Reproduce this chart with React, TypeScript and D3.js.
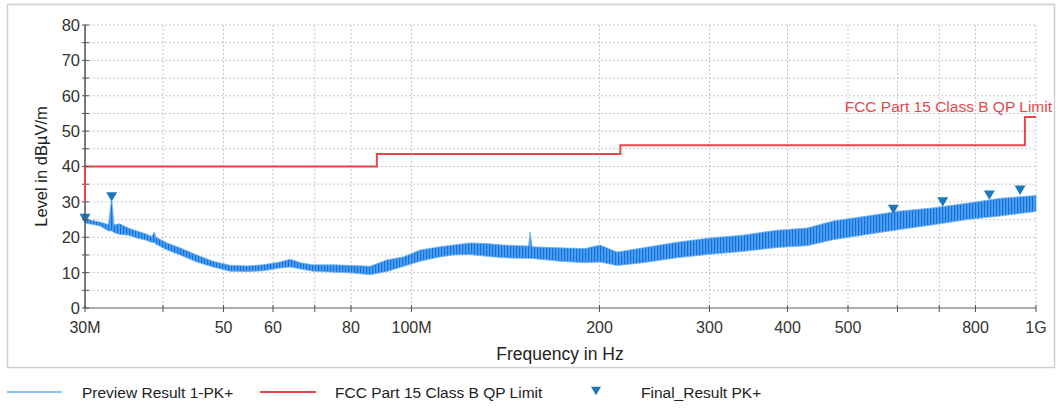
import React from "react";
import * as d3 from "d3";

// ---------- data ----------
const traceFreqMHz = [30, 31.7, 32.7, 33.1, 33.4, 34.1, 35.2, 36.3, 37.5, 38.4, 38.7, 39.0, 40.6, 42.6, 45.3, 48.1, 51.2, 54.5, 57.8, 61.6, 63.9, 66.5, 69.5, 75.4, 80.6, 85.8, 91.3, 96.9, 103.2, 109.9, 116.6, 124.1, 132.1, 140.1, 154, 154.8, 156, 172.9, 189.6, 200.4, 213.3, 234.7, 266.1, 300.6, 339.5, 384.9, 429.9, 473.1, 536.4, 605.7, 684, 775.6, 875.8, 1000];
const traceLow = [24.0, 23.2, 21.8, 21.8, 21.3, 20.8, 20.6, 19.8, 19.2, 18.5, 18.5, 18, 16.4, 15, 13, 11.6, 10.4, 10.3, 10.5, 11.3, 11.6, 11.0, 10.4, 10.1, 9.9, 9.4, 10.3, 11.7, 13.2, 14.3, 15, 15.1, 14.6, 14.2, 14, 14, 14, 13.2, 12.8, 13, 12.0, 12.8, 14.2, 15.2, 16.0, 17.1, 17.6, 19.3, 20.8, 22.2, 23.5, 25.0, 26.0, 27.3];
const traceHigh = [25.2, 24.3, 23.6, 31, 23.5, 23.8, 22.6, 21.8, 21.0, 20.2, 21.5, 20, 18.4, 17, 15, 13.2, 12.1, 11.9, 12.2, 13, 13.8, 12.8, 12.2, 12.2, 12, 11.8, 13.6, 14.4, 16.4, 17.2, 17.8, 18.4, 18.2, 17.8, 17.5, 21.5, 17.3, 17, 16.8, 17.8, 15.8, 17, 18.6, 19.8, 20.6, 22, 22.6, 24.6, 26.0, 27.4, 28.3, 29.6, 31.0, 31.8];

const limitFreqMHz = [30, 30, 88, 88, 216, 216, 960, 960, 1000];
const limitLevel = [30, 40, 40, 43.5, 43.5, 46, 46, 54, 54];

const markerFreqMHz = [30, 33.1, 591, 709, 842, 943];
const markerLevel = [25.3, 31.4, 27.9, 30.0, 31.9, 33.3];

const xTickValues = [40, 50, 60, 70, 80, 100, 200, 300, 400, 500, 600, 700, 800, 1000];
const xTickLabels: Record<number, string> = { 30: "30M", 50: "50", 60: "60", 80: "80", 100: "100M", 200: "200", 300: "300", 400: "400", 500: "500", 800: "800", 1000: "1G" };
const yMajorTicks = [0, 10, 20, 30, 40, 50, 60, 70, 80];
const yMinorTicks = [5, 15, 25, 35, 45, 55, 65, 75];

const legendItems = ["Preview Result 1-PK+", "FCC Part 15 Class B QP Limit", "Final_Result PK+"];
const limitLabel = "FCC Part 15 Class B QP Limit";

// ---------- layout ----------
const W = 1058;
const H = 408;
const left = 85;
const right = 1036;
const top = 25;
const bottom = 308;

const FONT = "'Liberation Sans', Arial, Helvetica, sans-serif";
const RED = "#e8474a";
const MARK = "#1b78bd";

export default function App() {
  const x = d3.scaleLog().domain([30, 1000]).range([left, right]);
  const y = d3.scaleLinear().domain([0, 80]).range([bottom, top]);

  const traceIdx = traceFreqMHz.map((_, i) => i);
  const area = d3
    .area<number>()
    .x((i) => x(traceFreqMHz[i]))
    .y0((i) => y(traceLow[i]))
    .y1((i) => y(traceHigh[i]));
  const limLine = d3
    .line<number>()
    .x((i) => x(limitFreqMHz[i]))
    .y((i) => y(limitLevel[i]));
  const limIdx = limitFreqMHz.map((_, i) => i);

  const tri = (cx: number, cy: number, s: number) =>
    `M${cx - s},${cy - s * 0.85} L${cx + s},${cy - s * 0.85} L${cx},${cy + s * 0.85} Z`;

  const gridY = [...yMajorTicks, ...yMinorTicks].filter((v) => v > 0);

  return (
    <div style={{ position: "fixed", left: 0, top: 0 }}>
      <svg width={W} height={H} style={{ display: "block", background: "#fff" }}>
        <defs>
          <pattern id="traceTex" width={3} height={6} patternUnits="userSpaceOnUse">
            <rect x={0} y={0} width={3} height={6} fill="#4d9ff0" />
            <rect x={0} y={0} width={1.2} height={6} fill="#1670dc" />
          </pattern>
        </defs>
        <rect x={7.5} y={4.5} width={1047} height={363} fill="#fff" stroke="#d0d0d0" strokeWidth={1.5} />

        {/* grid */}
        <g stroke="#c8c8c8" strokeWidth={1} strokeDasharray="2,2">
          {gridY.map((v) => (
            <line key={"gy" + v} x1={left} x2={right} y1={y(v)} y2={y(v)} />
          ))}
          {xTickValues.map((v) => (
            <line key={"gx" + v} x1={x(v)} x2={x(v)} y1={top} y2={bottom} />
          ))}
        </g>

        {/* trace */}
        <path d={area(traceIdx) || ""} fill="url(#traceTex)" stroke="#6fb3f2" strokeWidth={0.8} />

        {/* limit */}
        <path d={limLine(limIdx) || ""} fill="none" stroke={RED} strokeWidth={2} />
        <text x={1052} y={112} textAnchor="end" fontFamily={FONT} fontSize={15.5} fill={RED}>
          {limitLabel}
        </text>

        {/* markers */}
        {markerFreqMHz.map((f, i) => (
          <path key={"m" + i} d={tri(x(f), y(markerLevel[i]), 5.5)} fill={MARK} />
        ))}

        {/* axes */}
        <line x1={left} x2={right} y1={bottom} y2={bottom} stroke="#909090" strokeWidth={1.5} />
        {[30, ...xTickValues].map((v) => (
          <line key={"xt" + v} x1={x(v)} x2={x(v)} y1={bottom - 3} y2={bottom + 4} stroke="#505050" strokeWidth={1} />
        ))}
        {Object.keys(xTickLabels).map((k) => {
          const v = +k;
          return (
            <text key={"xl" + v} x={x(v)} y={333} textAnchor="middle" fontFamily={FONT} fontSize={16} fill="#333">
              {xTickLabels[v]}
            </text>
          );
        })}

        <line x1={left} x2={left} y1={top} y2={bottom} stroke="#505050" strokeWidth={1.5} />
        {[...yMajorTicks, ...yMinorTicks].map((v) => (
          <line key={"yt" + v} x1={left - 3} x2={left + 4} y1={y(v)} y2={y(v)} stroke="#505050" strokeWidth={1} />
        ))}
        {yMajorTicks.map((v) => (
          <text key={"yl" + v} x={80} y={y(v)} dy="0.36em" textAnchor="end" fontFamily={FONT} fontSize={16.5} fill="#333">
            {v}
          </text>
        ))}
        {/* red segment over y-axis at start */}
        <path d={limLine(limIdx.slice(0, 2)) || ""} fill="none" stroke={RED} strokeWidth={2} />

        {/* axis titles */}
        <text
          transform={`translate(47,${(top + bottom) / 2}) rotate(-90)`}
          textAnchor="middle"
          fontFamily={FONT}
          fontSize={16.5}
          fill="#222"
        >
          Level in dBµV/m
        </text>
        <text x={560} y={360} textAnchor="middle" fontFamily={FONT} fontSize={17.5} fill="#222">
          Frequency in Hz
        </text>

        {/* legend */}
        <line x1={7} x2={62} y1={392} y2={392} stroke="#8fc2f0" strokeWidth={2} />
        <text x={82} y={397.5} fontFamily={FONT} fontSize={15.5} fill="#222">{legendItems[0]}</text>
        <line x1={260} x2={316} y1={392} y2={392} stroke={RED} strokeWidth={2} />
        <text x={335} y={397.5} fontFamily={FONT} fontSize={15.5} fill="#222">{legendItems[1]}</text>
        <path d={tri(596, 391, 5)} fill={MARK} />
        <text x={641} y={397.5} fontFamily={FONT} fontSize={15.5} fill="#222">{legendItems[2]}</text>
      </svg>
    </div>
  );
}
